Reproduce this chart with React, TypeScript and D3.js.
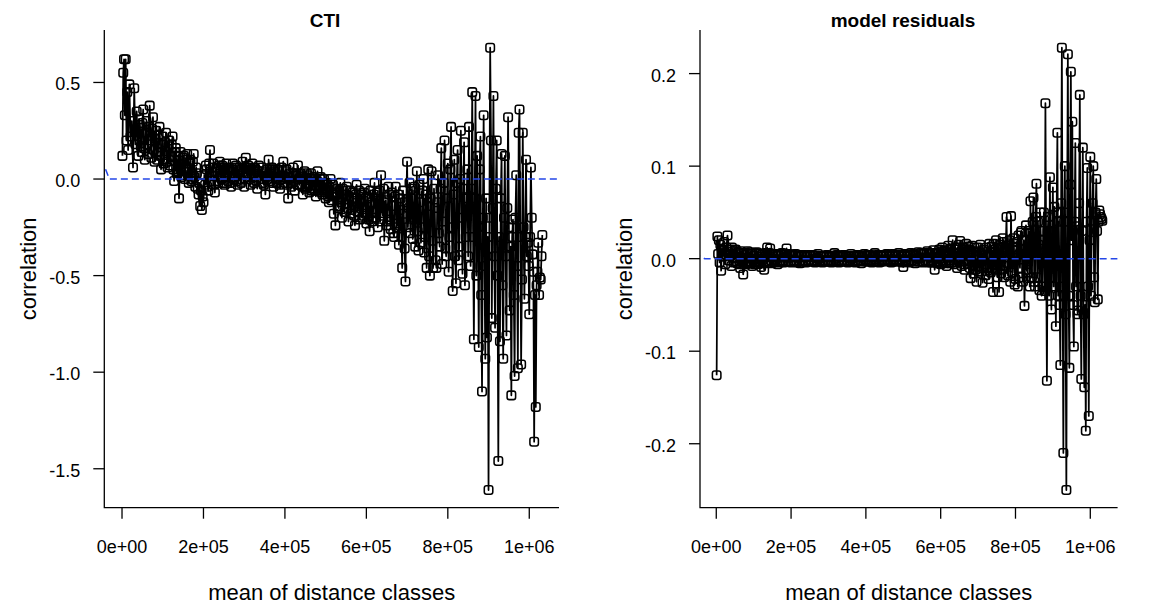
import React from "react";
import * as d3 from "d3";

// mean of distance classes, in thousands (x 1000)
const DIST_K = [
  1, 3, 5, 7, 9, 11, 13, 15, 18, 21, 24, 27, 30, 33, 36,
  38, 40, 42, 44, 46, 48, 50, 52, 54, 56,
  58, 60, 62, 64, 66, 68, 70, 72, 74, 76,
  78, 80, 82, 84, 86, 88, 90, 92, 94, 96,
  98, 100, 102, 104, 106, 108, 110, 112, 114, 116,
  118, 120, 122, 124, 126, 128, 130, 132, 134, 136,
  138, 140, 142, 144, 146, 148, 150, 152, 154, 156,
  158, 160, 162, 164, 166, 168, 170, 172, 174, 176,
  178, 180, 182, 184, 186, 188, 190, 192, 194, 196,
  198, 200, 202, 204, 206, 208, 210, 212, 214, 216,
  218, 220, 222, 224, 226, 228, 230, 232, 234, 236,
  238, 240, 242, 244, 246, 248, 250, 252, 254, 256,
  258, 260, 262, 264, 266, 268, 270, 272, 274, 276,
  278, 280, 282, 284, 286, 288, 290, 292, 294, 296,
  298, 300, 302, 304, 306, 308, 310, 312, 314, 316,
  318, 320, 322, 324, 326, 328, 330, 332, 334, 336,
  338, 340, 342, 344, 346, 348, 350, 352, 354, 356,
  358, 360, 362, 364, 366, 368, 370, 372, 374, 376,
  378, 380, 382, 384, 386, 388, 390, 392, 394, 396,
  398, 400, 402, 404, 406, 408, 410, 412, 414, 416,
  418, 420, 422, 424, 426, 428, 430, 432, 434, 436,
  438, 440, 442, 444, 446, 448, 450, 452, 454, 456,
  458, 460, 462, 464, 466, 468, 470, 472, 474, 476,
  478, 480, 482, 484, 486, 488, 490, 492, 494, 496,
  498, 500, 502, 504, 506, 508, 510, 512, 514, 516,
  518, 520, 522, 524, 526, 528, 530, 532, 534, 536,
  538, 540, 542, 544, 546, 548, 550, 552, 554, 556,
  558, 560, 562, 564, 566, 568, 570, 572, 574, 576,
  578, 580, 582, 584, 586, 588, 590, 592, 594, 596,
  598, 600, 602, 604, 606, 608, 610, 612, 614, 616,
  618, 620, 622, 624, 626, 628, 630, 632, 634, 636,
  638, 640, 642, 644, 646, 648, 650, 652, 654, 656,
  658, 660, 662, 664, 666, 668, 670, 672, 674, 676,
  678, 680, 682, 684, 686, 688, 690, 692, 694, 696,
  698, 700, 702, 704, 706, 708, 710, 712, 714, 716,
  718, 720, 722, 724, 726, 728, 730, 732, 734, 736,
  738, 740, 742, 744, 746, 748, 750, 752, 754, 756,
  758, 760, 762, 764, 766, 768, 770, 772, 774, 776,
  778, 780, 782, 784, 786, 788, 790, 792, 794, 796,
  798, 800, 802, 804, 806, 808, 810, 812, 814, 816,
  818, 820, 822, 824, 826, 828, 830, 832, 834, 836,
  838, 840, 842, 844, 846, 848, 850, 852, 854, 856,
  858, 860, 862, 864, 866, 868, 870, 872, 874, 876,
  878, 880, 882, 884, 886, 888, 890, 892, 894, 896,
  898, 900, 902, 904, 906, 908, 910, 912, 914, 916,
  918, 920, 922, 924, 926, 928, 930, 932, 934, 936,
  938, 940, 942, 944, 946, 948, 950, 952, 954, 956,
  958, 960, 962, 964, 966, 968, 970, 972, 974, 976,
  978, 980, 982, 984, 986, 988, 990, 992, 994, 996,
  998, 1000, 1002, 1004, 1006, 1008, 1010, 1012, 1014, 1016,
  1018, 1020, 1022, 1024, 1026, 1028, 1030, 1032,
];

// Moran's I correlogram: CTI
const CTI_COR = [
  0.12, 0.55, 0.62, 0.33, 0.62, 0.2, 0.45, 0.15, 0.49, 0.22, 0.3, 0.06, 0.47, 0.18, 0.35,
  0.22, 0.12, 0.31, 0.28, 0.17, 0.14, 0.29, 0.36, 0.16, 0.1,
  0.24, 0.3, 0.18, 0.13, 0.27, 0.38, 0.2, 0.11, 0.26, 0.32,
  0.15, 0.09, 0.21, 0.25, 0.1, 0.14, 0.23, 0.27, 0.12, 0.05,
  0.18, 0.22, 0.08, 0.1, 0.19, 0.24, 0.09, 0.06, 0.17, 0.2,
  0.07, 0.12, 0.18, 0.22, 0.05, -0.01, 0.14, 0.16, 0.03, 0.04,
  0.12, -0.1, 0.06, 0.14, 0.01, 0.02, 0.11, 0.12, 0.0, 0.05,
  0.1, 0.13, 0.02, -0.02, 0.08, 0.1, -0.01, 0.0, 0.09, 0.13,
  0.01, -0.04, 0.06, 0.03, -0.05, -0.08, -0.02, -0.14, -0.06, -0.16,
  -0.09, -0.12, 0.02, -0.03, 0.07, 0.05, -0.04, -0.06, 0.08, 0.15,
  -0.01, 0.02, 0.06, 0.08, -0.03, -0.07, 0.04, 0.06, -0.01, -0.02,
  0.07, 0.09, 0.01, 0.0, 0.07, 0.06, -0.02, -0.03, 0.05, 0.08,
  0.01, -0.01, 0.06, 0.05, -0.02, -0.04, 0.05, 0.08, 0.01, 0.0,
  0.06, 0.07, -0.01, -0.03, 0.04, 0.06, 0.0, -0.02, 0.05, 0.09,
  0.02, -0.04, 0.06, 0.11, 0.03, 0.01, 0.07, 0.06, 0.0, -0.03,
  0.05, 0.08, 0.01, -0.02, 0.06, 0.05, -0.01, -0.05, 0.04, 0.07,
  0.02, 0.0, 0.06, 0.04, -0.02, -0.03, 0.03, -0.08, 0.01, 0.05,
  0.0, 0.1, 0.03, -0.01, 0.05, 0.06, -0.02, -0.04, 0.04, 0.05,
  0.0, -0.02, 0.05, 0.04, -0.03, -0.05, 0.02, 0.06, 0.0, 0.09,
  0.01, -0.02, 0.04, 0.05, -0.03, -0.1, 0.01, 0.03, -0.02, -0.04,
  0.03, 0.06, -0.01, -0.06, 0.02, 0.03, -0.03, 0.07, 0.0, -0.03,
  0.03, 0.02, -0.04, -0.08, 0.01, 0.04, -0.05, -0.04, 0.03, 0.02,
  -0.03, -0.07, 0.0, 0.03, -0.06, -0.05, 0.01, 0.0, -0.06, -0.09,
  -0.01, 0.04, -0.04, -0.06, 0.0, 0.01, -0.07, -0.08, -0.02, 0.0,
  -0.06, -0.1, -0.02, -0.03, -0.09, -0.12, -0.04, 0.0, -0.11, -0.08,
  -0.03, -0.18, -0.09, -0.24, -0.07, -0.05, -0.14, -0.15, -0.06, -0.02,
  -0.12, -0.2, -0.05, -0.08, -0.17, -0.13, -0.06, -0.04, -0.15, -0.22,
  -0.09, -0.06, -0.18, -0.16, -0.07, -0.1, -0.19, -0.24, -0.08, -0.03,
  -0.17, -0.14, -0.06, -0.21, -0.12, -0.08, -0.2, -0.19, -0.07, -0.05,
  -0.18, -0.23, -0.09, -0.1, -0.21, -0.27, -0.06, -0.12, -0.22, -0.2,
  -0.08, -0.02, -0.2, -0.17, -0.07, -0.25, -0.13, -0.06, -0.22, 0.02,
  -0.15, -0.19, -0.05, -0.32, -0.12, -0.11, -0.24, -0.22, -0.04, -0.08,
  -0.21, -0.26, -0.07, -0.14, -0.28, -0.3, -0.09, -0.04, -0.25, -0.23,
  -0.08, -0.34, -0.16, -0.1, -0.3, -0.46, -0.06, -0.18, -0.36, -0.53,
  -0.12, 0.09, -0.25, -0.15, -0.02, -0.28, -0.1, -0.05, -0.31, -0.2,
  -0.04, -0.35, -0.18, 0.04, -0.27, -0.37, -0.03, -0.12, -0.33, -0.25,
  -0.06, 0.0, -0.38, -0.3, -0.08, -0.46, -0.14, 0.05, -0.4, -0.5,
  -0.1, 0.04, -0.32, -0.46, -0.05, -0.15, -0.42, -0.46, -0.12, 0.02,
  -0.28, -0.35, -0.05, 0.16, -0.44, -0.22, -0.02, 0.2, -0.36, -0.4,
  -0.1, 0.08, -0.48, -0.3, 0.05, 0.27, -0.25, -0.58, -0.08, 0.1,
  -0.4, -0.54, -0.02, 0.15, -0.42, -0.35, 0.0, 0.25, -0.2, -0.49,
  -0.05, 0.19, -0.55, -0.3, -0.1, 0.05, -0.4, 0.27, -0.15, -0.45,
  -0.05, 0.45, -0.3, -0.83, -0.1, 0.43, -0.5, 0.12, -0.25, -0.87,
  0.05, 0.22, -0.6, -1.1, -0.2, 0.33, -0.45, -0.93, -0.1, -0.82,
  -0.3, -1.61, -0.2, 0.68, 0.2, -0.72, -0.15, 0.43, -0.4, -0.77,
  -0.05, 0.2, -0.5, -1.46, -0.3, -0.84, -0.1, 0.13, -0.55, -0.93,
  -0.2, 0.12, -0.4, -0.81, -0.15, 0.32, -0.25, -0.68, -0.35, -1.12,
  -0.3, -0.21, -0.6, -1.02, -0.2, 0.02, -0.45, -0.98, 0.24, 0.36,
  -0.3, -0.96, -0.52, 0.24, -0.25, -0.62, -0.3, 0.1, -0.4, -0.33,
  -0.45, -0.7, -0.3, 0.06, -0.2, -0.39, -0.48, -1.36, -0.6, -1.18,
  -0.55, -0.48, -0.33, -0.6, -0.51, -0.52, -0.4, -0.29,
];

// Moran's I correlogram: model residuals
const RESID_COR = [
  -0.126, 0.024, 0.005, 0.02, -0.004, 0.015, -0.013, 0.01, 0.002, 0.018, -0.006, 0.012, 0.025, -0.002, 0.01,
  0.004, -0.008, 0.012, 0.008, -0.004, 0.001, 0.009, 0.01, -0.003, -0.005,
  0.007, 0.006, -0.006, -0.01, 0.008, 0.005, -0.004, -0.017, 0.006, 0.004,
  -0.005, -0.006, 0.006, 0.008, -0.004, -0.003, 0.007, 0.005, -0.005, -0.008,
  0.005, 0.003, -0.006, -0.004, 0.006, 0.007, -0.003, -0.006, 0.005, 0.002,
  -0.005, -0.009, 0.004, 0.005, -0.004, -0.012, 0.006, 0.003, -0.005, 0.012,
  0.002, -0.003, 0.006, 0.011, -0.002, -0.005, 0.005, 0.004, -0.004, -0.002,
  0.004, 0.005, -0.003, -0.006, 0.004, 0.003, -0.004, -0.003, 0.005, 0.006,
  -0.002, -0.004, 0.004, 0.002, -0.003, 0.011, 0.001, -0.003, 0.005, 0.004,
  -0.003, -0.004, 0.004, 0.003, -0.003, -0.002, 0.004, 0.005, -0.003, -0.004,
  0.003, 0.002, -0.003, -0.005, 0.003, 0.004, -0.003, -0.002, 0.004, 0.003,
  -0.003, -0.004, 0.003, 0.002, -0.002, -0.003, 0.004, 0.004, -0.003, -0.002,
  0.004, 0.003, -0.002, -0.004, 0.003, 0.001, -0.003, 0.005, 0.0, -0.003,
  0.003, 0.002, -0.003, -0.004, 0.002, 0.003, -0.003, -0.002, 0.003, 0.004,
  -0.002, -0.003, 0.003, 0.002, -0.003, -0.004, 0.002, 0.003, -0.002, 0.006,
  0.0, -0.002, 0.004, 0.003, -0.003, -0.004, 0.003, 0.002, -0.002, -0.003,
  0.003, 0.004, -0.003, -0.002, 0.002, 0.003, -0.003, -0.004, 0.003, 0.002,
  -0.002, 0.005, 0.0, -0.003, 0.003, 0.002, -0.003, -0.004, 0.002, 0.004,
  -0.003, -0.002, 0.004, 0.003, -0.002, -0.005, 0.002, 0.002, -0.003, 0.005,
  -0.001, -0.003, 0.004, 0.003, -0.003, -0.002, 0.003, 0.004, -0.002, -0.004,
  0.003, 0.002, -0.003, 0.006, -0.001, -0.003, 0.004, 0.002, -0.003, -0.004,
  0.003, 0.004, -0.003, -0.002, 0.004, 0.003, -0.002, -0.003, 0.003, 0.005,
  -0.001, -0.002, 0.004, 0.002, -0.003, -0.004, 0.003, 0.005, -0.002, -0.003,
  0.004, 0.003, -0.003, -0.002, 0.004, 0.006, -0.001, -0.003, 0.004, 0.002,
  -0.004, -0.009, 0.003, 0.005, -0.003, -0.002, 0.004, 0.003, -0.003, -0.004,
  0.004, 0.006, -0.002, -0.002, 0.005, 0.004, -0.003, -0.005, 0.004, 0.003,
  -0.003, 0.007, 0.001, -0.003, 0.006, 0.005, -0.003, -0.004, 0.005, 0.006,
  -0.002, -0.002, 0.006, 0.008, -0.002, -0.004, 0.006, 0.005, -0.004, -0.003,
  0.006, 0.009, -0.004, -0.012, 0.005, 0.006, -0.004, -0.005, 0.007, 0.01,
  -0.003, -0.006, 0.008, 0.012, -0.002, -0.004, 0.009, 0.008, -0.005, -0.008,
  0.008, 0.014, -0.002, -0.005, 0.011, 0.01, -0.004, 0.02, 0.006, -0.006,
  0.01, 0.012, -0.004, -0.01, 0.012, 0.015, -0.003, 0.019, 0.004, -0.008,
  0.009, 0.012, -0.006, -0.012, 0.01, 0.016, -0.002, -0.006, 0.013, 0.01,
  -0.01, -0.021, 0.008, 0.014, -0.008, -0.016, 0.012, 0.008, -0.012, -0.025,
  0.004, 0.012, -0.008, -0.014, 0.015, 0.006, -0.01, -0.026, 0.008, 0.01,
  -0.006, -0.018, 0.012, 0.004, -0.01, -0.022, 0.016, 0.002, -0.015, 0.013,
  -0.01, -0.036, 0.016, 0.01, -0.012, 0.02, 0.005, -0.02, 0.012, -0.036,
  0.008, 0.015, -0.016, -0.012, 0.022, 0.018, -0.02, -0.008, 0.012, 0.045,
  -0.005, -0.018, 0.014, 0.02, -0.025, 0.046, -0.004, -0.015, 0.022, 0.012,
  -0.028, -0.022, 0.01, 0.018, -0.03, 0.025, 0.005, -0.01, 0.028, 0.03,
  -0.02, -0.025, 0.02, -0.051, 0.01, 0.036, -0.012, -0.015, 0.03, 0.028,
  -0.03, 0.062, 0.005, -0.02, 0.04, 0.066, -0.025, -0.03, 0.045, 0.081,
  -0.02, 0.04, 0.015, -0.034, 0.05, 0.02, -0.04, -0.03, 0.03, 0.05,
  -0.035, 0.168, 0.01, -0.132, 0.03, 0.045, -0.04, 0.088, -0.02, -0.055,
  0.03, 0.077, -0.03, 0.056, 0.01, -0.073, 0.05, 0.136, -0.04, 0.04,
  -0.05, -0.115, 0.06, 0.228, -0.03, -0.21, 0.04, 0.1, -0.06, -0.25,
  0.05, 0.221, -0.04, -0.118, 0.08, 0.202, 0.02, 0.148, -0.05, -0.095,
  0.04, 0.125, -0.03, 0.035, -0.06, -0.056, 0.06, 0.177, -0.04, -0.13,
  0.03, 0.12, -0.06, -0.139, -0.05, -0.186, 0.04, 0.098, -0.03, -0.17,
  0.02, 0.11, -0.04, 0.041, 0.06, 0.1, -0.02, -0.047, 0.05, 0.086,
  0.03, -0.044, 0.04, 0.052, 0.048, 0.045, 0.043, 0.041,
];

const X_TICKS = [0, 200000, 400000, 600000, 800000, 1000000];
const X_TICK_LABELS = ["0e+00", "2e+05", "4e+05", "6e+05", "8e+05", "1e+06"];
const CTI_Y_TICKS = [0.5, 0, -0.5, -1, -1.5];
const CTI_Y_LABELS = ["0.5", "0.0", "-0.5", "-1.0", "-1.5"];
const RESID_Y_TICKS = [0.2, 0.1, 0, -0.1, -0.2];
const RESID_Y_LABELS = ["0.2", "0.1", "0.0", "-0.1", "-0.2"];

// reference (blue dashed) line
const NULL_X_K = [-60, -31, 1100];
const CTI_NULL = [0.157, 0, 0];
const RESID_NULL = [0.0056, 0, 0];

const X_DOMAIN: [number, number] = [-43500, 1073000];
const FONT = "'Liberation Sans', Arial, Helvetica, sans-serif";

type PanelProps = {
  id: string;
  title: string;
  titleX: number;
  values: number[];
  nullY: number[];
  yTicks: number[];
  yLabels: string[];
  x0: number;
  x1: number;
};

const TOP = 30;
const BOTTOM = 507.7;

function Panel({ id, title, titleX, values, nullY, yTicks, yLabels, x0, x1 }: PanelProps) {
  const x = d3.scaleLinear().domain(X_DOMAIN).range([x0, x1]);
  const [mn, mx] = d3.extent(values) as [number, number];
  const pad = (mx - mn) * 0.04;
  const y = d3.scaleLinear().domain([mn - pad, mx + pad]).range([BOTTOM, TOP]);
  const n = Math.min(DIST_K.length, values.length);
  const pts: [number, number][] = [];
  for (let i = 0; i < n; i++) pts.push([x(DIST_K[i] * 1000), y(values[i])]);
  const line = d3.line<[number, number]>()(pts) || "";
  const nullPts = NULL_X_K.map((d, i) => [x(d * 1000), y(nullY[i])] as [number, number]);
  const nullLine = d3.line<[number, number]>()(nullPts) || "";
  const cx = (x0 + x1) / 2;
  const cy = (TOP + BOTTOM) / 2;
  const s = 8.5;
  return (
    <g>
      <defs>
        <clipPath id={id}>
          <rect x={x0} y={TOP} width={x1 - x0} height={BOTTOM - TOP} />
        </clipPath>
      </defs>
      <path d={line} fill="none" stroke="#000" strokeWidth={1.75} strokeLinejoin="round" />
      {pts.map((p, i) => (
        <rect
          key={i}
          x={p[0] - s / 2}
          y={p[1] - s / 2}
          width={s}
          height={s}
          rx={2.2}
          fill="none"
          stroke="#000"
          strokeWidth={1.55}
        />
      ))}
      <path
        d={nullLine}
        fill="none"
        stroke="#2447e8"
        strokeWidth={1.5}
        strokeDasharray="7,4"
        clipPath={`url(#${id})`}
      />
      {/* box (bty = "l") */}
      <path d={`M${x0},${TOP}V${BOTTOM}H${x1}`} fill="none" stroke="#000" strokeWidth={1.3} />
      {X_TICKS.map((t, i) => (
        <g key={i}>
          <line x1={x(t)} x2={x(t)} y1={BOTTOM} y2={BOTTOM + 11} stroke="#000" strokeWidth={1.3} />
          <text x={x(t)} y={552.5} textAnchor="middle" fontSize={18} fontFamily={FONT}>
            {X_TICK_LABELS[i]}
          </text>
        </g>
      ))}
      {yTicks.map((t, i) => (
        <g key={i}>
          <line x1={x0 - 11} x2={x0} y1={y(t)} y2={y(t)} stroke="#000" strokeWidth={1.3} />
          <text x={x0 - 24} y={y(t) + 8} textAnchor="end" fontSize={18} fontFamily={FONT}>
            {yLabels[i]}
          </text>
        </g>
      ))}
      <text x={titleX} y={26.7} textAnchor="middle" fontSize={19} fontWeight="bold" fontFamily={FONT}>
        {title}
      </text>
      <text x={cx} y={600} textAnchor="middle" fontSize={22} fontFamily={FONT}>
        mean of distance classes
      </text>
      <text
        transform={`translate(${x0 - 68},${cy}) rotate(-90)`}
        textAnchor="middle"
        fontSize={22}
        fontFamily={FONT}
      >
        correlation
      </text>
    </g>
  );
}

export default function App() {
  return (
    <svg
      width={1169}
      height={607}
      style={{ position: "absolute", left: 0, top: 0, background: "#fff" }}
    >
      <rect x={0} y={0} width={1169} height={607} fill="#fff" />
      <Panel
        id="clipL"
        title="CTI"
        titleX={325}
        values={CTI_COR}
        nullY={CTI_NULL}
        yTicks={CTI_Y_TICKS}
        yLabels={CTI_Y_LABELS}
        x0={104.3}
        x1={559}
      />
      <Panel
        id="clipR"
        title="model residuals"
        titleX={903}
        values={RESID_COR}
        nullY={RESID_NULL}
        yTicks={RESID_Y_TICKS}
        yLabels={RESID_Y_LABELS}
        x0={700}
        x1={1117.6}
      />
    </svg>
  );
}
